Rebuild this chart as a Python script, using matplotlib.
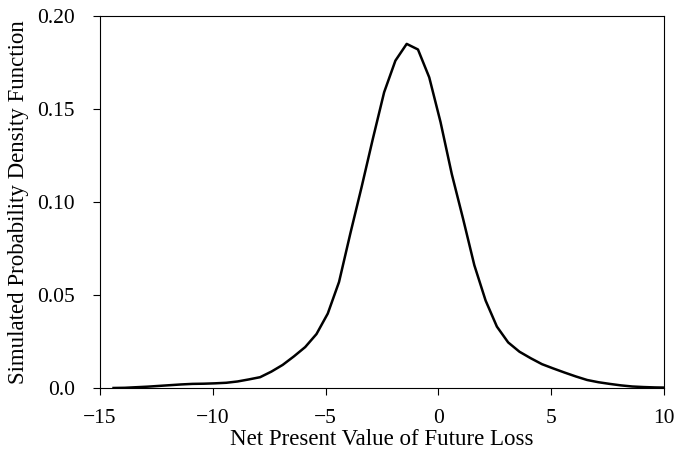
import matplotlib.pyplot as plt
import numpy as np

plt.rcParams['font.family'] = ['Liberation Serif', 'DejaVu Serif']

# simulated density of the net present value of future loss
npv = [-14.4, -13.9, -13.4, -12.9, -12.4, -11.9, -11.4, -10.9, -10.4, -9.9,
       -9.4, -8.9, -8.4, -7.9, -7.4, -6.9, -6.4, -5.9, -5.4, -4.9,
       -4.4, -3.9, -3.4, -2.9, -2.4, -1.9, -1.4, -0.9, -0.4, 0.1,
       0.6, 1.1, 1.6, 2.1, 2.6, 3.1, 3.6, 4.1, 4.6, 5.1,
       5.6, 6.1, 6.6, 7.1, 7.6, 8.1, 8.6, 9.1, 9.6, 10.1]
density = [0.0, 0.0001, 0.0004, 0.0007, 0.0011, 0.0015, 0.0019, 0.0022, 0.0023, 0.0025,
           0.0028, 0.0035, 0.0046, 0.0058, 0.0088, 0.0124, 0.017, 0.022, 0.029, 0.040,
           0.057, 0.083, 0.108, 0.134, 0.159, 0.176, 0.185, 0.182, 0.167, 0.143,
           0.115, 0.091, 0.066, 0.047, 0.033, 0.0245, 0.0195, 0.016, 0.0128, 0.0105,
           0.0083, 0.0062, 0.0043, 0.0031, 0.0022, 0.0014, 0.0008, 0.0005, 0.0003, 0.0002]

fig = plt.figure(figsize=(6.78, 4.61), dpi=100)
ax = fig.add_axes([0.1475, 0.1584, 0.8315, 0.8069])

ax.plot(npv, density, color='black', linewidth=1.8)

ax.set_xlim(-15, 10)
ax.set_ylim(0, 0.20)
ax.set_xticks([-15, -10, -5, 0, 5, 10])
ax.set_xticklabels(['\u221215', '\u221210', '\u22125', '0', '5', '10'])
ax.set_yticks([0.0, 0.05, 0.10, 0.15, 0.20])
ax.set_yticklabels(['0.0', '0.05', '0.10', '0.15', '0.20'])
ax.tick_params(direction='out', length=5, width=0.8, labelsize=15.5)
ax.tick_params(axis='x', pad=10)
ax.tick_params(axis='y', pad=13)

for s in ax.spines.values():
    s.set_linewidth(0.8)

ax.set_xlabel('Net Present Value of Future Loss', fontsize=16.5, labelpad=1)
ax.set_ylabel('Simulated Probability Density Function', fontsize=16.5, labelpad=6)

fig.savefig('out.png', dpi=100)
